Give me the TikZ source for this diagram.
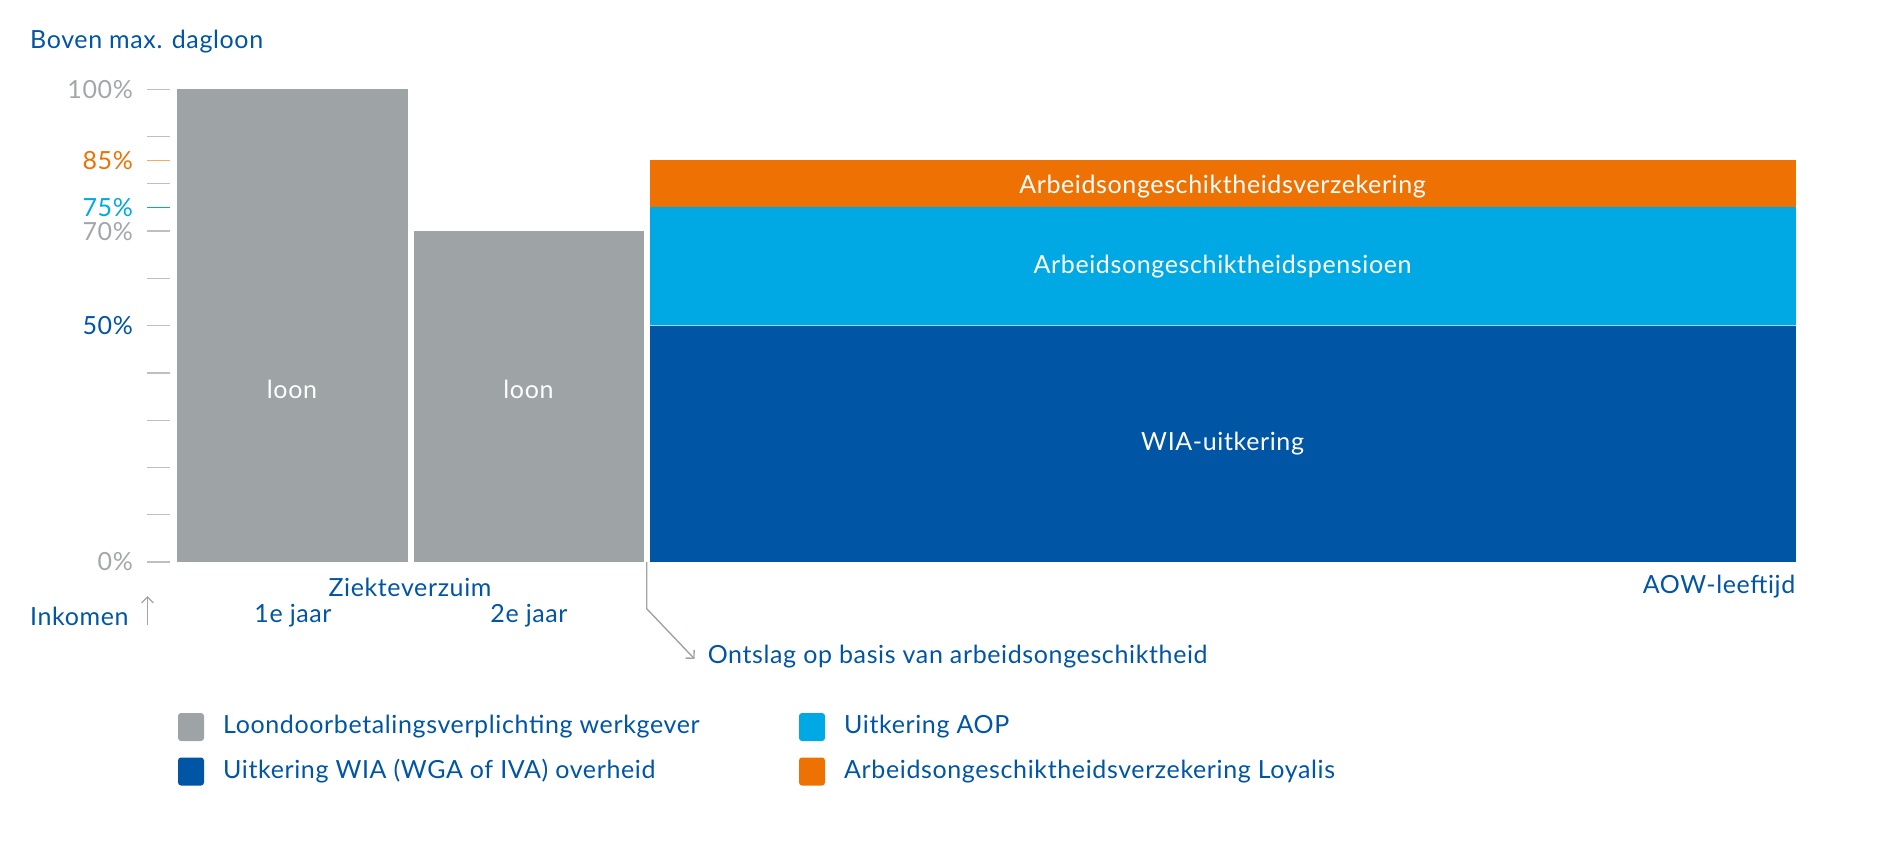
\documentclass[tikz,border=0pt]{standalone}
\usepackage{fontspec}
\setmainfont[LetterSpace=2.5]{Lato}
\usetikzlibrary{arrows.meta}
\definecolor{cgray}{HTML}{9EA3A6}
\definecolor{cdark}{HTML}{0055A4}
\definecolor{clight}{HTML}{00A8E4}
\definecolor{corange}{HTML}{EE7203}
\definecolor{ctick}{HTML}{BCC0C3}
\definecolor{clab}{HTML}{A3A7AA}
\begin{document}
\begin{tikzpicture}[x=1pt,y=-1pt,
  txt/.style={font=\fontsize{25}{29}\selectfont, inner sep=0pt, text=cdark},
  wtxt/.style={txt, text=white},
  blk/.style={inner sep=0pt, outer sep=0pt, anchor=south west},
  tick/.style={ctick, line width=1.3pt},
  leg/.style={inner sep=0pt, minimum width=26pt, minimum height=28pt, rounded corners=3pt},
  conn/.style={cgray, line width=1.4pt, -{Straight Barb[angle=90:7pt 1, line width=1.4pt]}}
]
\useasboundingbox (0,0) rectangle (1890,858);

% title
\node[txt, anchor=west] (title) at (30,42) {Boven max. dagloon};

% ticks
\foreach \p in {0,10,...,100}{
  \draw[tick] (147,{562-4.727*\p}) -- (170,{562-4.727*\p});
}
\draw[tick, draw=corange!60] (147,{562-4.727*85}) -- (170,{562-4.727*85});
\draw[tick, draw=clight] (147,{562-4.727*75}) -- (170,{562-4.727*75});

% tick labels
\node[txt, anchor=east, text=clab] (l100) at (133,{562-4.727*100}) {100\%};
\node[txt, anchor=east, text=corange] (l85) at (133,{562-4.727*85}) {85\%};
\node[txt, anchor=east, text=clight] (l75) at (133,{562-4.727*75}) {75\%};
\node[txt, anchor=east, text=clab] (l70) at (133,{562-4.727*70}) {70\%};
\node[txt, anchor=east, text=cdark] (l50) at (133,{562-4.727*50}) {50\%};
\node[txt, anchor=east, text=clab] (l0) at (133,562) {0\%};

% bars
\node[blk, fill=cgray, minimum width=230.3pt, minimum height=472.7pt] (bar1) at (177.2,562) {};
\node[blk, fill=cgray, minimum width=230.3pt, minimum height=330.9pt] (bar2) at (413.5,562) {};
\node[blk, fill=cdark, minimum width=1145.8pt, minimum height=236.4pt] (wia) at (649.7,562) {};
\node[blk, fill=clight, minimum width=1145.8pt, minimum height=118.1pt] (aop) at (649.7,325.6) {};
\node[blk, fill=corange, minimum width=1145.8pt, minimum height=47.3pt] (aov) at (649.7,207.5) {};
\draw[white!60!clight, line width=1pt] (wia.north west) -- (wia.north east);

% bar labels
\node[wtxt] (loon1) at (292,389) {loon};
\node[wtxt] (loon2) at (528.5,389) {loon};
\node[wtxt, yshift=-3pt] at (aov.center) (aovl) {Arbeidsongeschiktheidsverzekering};
\node[wtxt] at (aop.center) (aopl) {Arbeidsongeschiktheidspensioen};
\node[wtxt] at (wia.center) (wial) {WIA-uitkering};

% axis labels
\node[txt] (zv) at (410,587) {Ziekteverzuim};
\node[txt, anchor=east] (aow) at (1795.5,587) {AOW-leeftijd};
\node[txt, anchor=west] (ink) at (30,616) {Inkomen};
\coordinate (ia) at (147.5,625);
\coordinate (ib) at (147.5,596);
\draw[cgray, line width=1.3pt, -{Straight Barb[angle=90:7pt 1, line width=1.3pt]}] (ia) -- (ib);
\node[txt] (j1) at (293,616) {1e jaar};
\node[txt] (j2) at (529,616) {2e jaar};

% connector
\node[txt, anchor=west] (ontslag) at (707.6,657) {Ontslag op basis van arbeidsongeschiktheid};
\coordinate (cs) at (646.7,562);
\draw[conn] (cs) -- ++(0,46.7) -- ([xshift=-13pt,yshift=-2pt]ontslag.west);

% legend
\node[leg, fill=cgray] (sq1) at (191,727) {};
\node[txt, anchor=west] (lt1) at (223,727) {Loondoorbetalingsverplichting werkgever};
\node[leg, fill=cdark] (sq2) at (191,771.5) {};
\node[txt, anchor=west] (lt2) at (223,771.5) {Uitkering WIA (WGA of IVA) overheid};
\node[leg, fill=clight] (sq3) at (812,727) {};
\node[txt, anchor=west] (lt3) at (844,727) {Uitkering AOP};
\node[leg, fill=corange] (sq4) at (812,771.5) {};
\node[txt, anchor=west] (lt4) at (844,771.5) {Arbeidsongeschiktheidsverzekering Loyalis};
\end{tikzpicture}
\end{document}
